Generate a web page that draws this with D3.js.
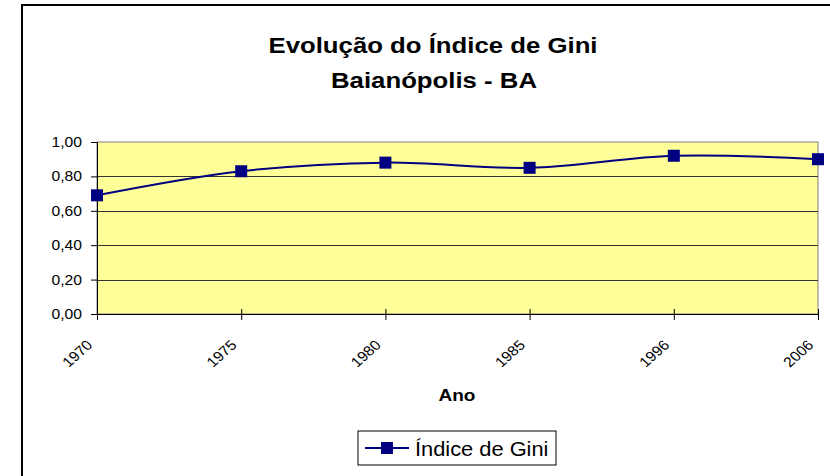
<!DOCTYPE html>
<html>
<head>
<meta charset="utf-8">
<script src="https://cdn.jsdelivr.net/npm/d3@7"></script>
<style>
	body { margin: 0; background: #fff; }
	svg { display: block; font-family: "Liberation Sans", Arial, sans-serif; }
</style>
</head>
<body>
<svg id="chart" width="830" height="476"></svg>
<script>
const anos = ["1970", "1975", "1980", "1985", "1996", "2006"];
const gini = [0.69, 0.83, 0.88, 0.85, 0.92, 0.90];
const yTicks = [0, 0.2, 0.4, 0.6, 0.8, 1.0];

const svg = d3.select("#chart");
const plotLeft = 97, plotRight = 818, plotTop = 142, plotBottom = 314;
// o texto do original e' um pouco mais largo que o normal
const sx = 1.12;

// moldura externa
svg.append("rect")
	.attr("x", 22).attr("y", 5)
	.attr("width", 900).attr("height", 600)
	.attr("fill", "none").attr("stroke", "#000").attr("stroke-width", 2);

const x = d3.scalePoint(anos, [plotLeft, plotRight]);
const y = d3.scaleLinear([0, 1], [plotBottom, plotTop]);

svg.append("rect")
	.attr("x", plotLeft).attr("y", plotTop)
	.attr("width", plotRight - plotLeft).attr("height", plotBottom - plotTop)
	.attr("fill", "#FFFF99")
	.attr("stroke", "#808080");

// linhas de grade
svg.append("g")
	.selectAll("line")
	.data(yTicks.slice(1, -1))
	.join("line")
	.attr("x1", plotLeft).attr("x2", plotRight)
	.attr("y1", (d) => Math.round(y(d)) + 0.5)
	.attr("y2", (d) => Math.round(y(d)) + 0.5)
	.attr("stroke", "#333");

const fmt = (d) => d.toFixed(2).replace(".", ",");

const yAxis = svg.append("g")
	.attr("transform", `translate(${plotLeft},0)`)
	.call(d3.axisLeft(y).tickValues(yTicks).tickFormat(fmt).tickSize(6));
yAxis.select(".domain").attr("stroke", "#000");
yAxis.selectAll("text")
	.style("font-size", "14px")
	.attr("fill", "#000")
	.attr("x", 0)
	.attr("transform", `translate(-15,0) scale(${sx},1)`);

const xAxis = svg.append("g")
	.attr("transform", `translate(0,${plotBottom})`)
	.call(d3.axisBottom(x).tickSize(6).tickSizeOuter(0));
xAxis.select(".domain").attr("stroke", "#000");
xAxis.selectAll(".tick line").attr("y1", -5);
xAxis.selectAll("text")
	.style("font-size", "14px")
	.attr("fill", "#000")
	.attr("text-anchor", "end")
	.attr("dy", null)
	.attr("y", 0)
	.attr("transform", `translate(-4,32) scale(${sx},1) rotate(-45)`);

// serie
const line = d3.line()
	.x((d, i) => x(anos[i]))
	.y((d) => y(d))
	.curve(d3.curveCatmullRom.alpha(0.5));

svg.append("path")
	.datum(gini)
	.attr("d", line)
	.attr("fill", "none")
	.attr("stroke", "#000080")
	.attr("stroke-width", 2);

svg.append("g")
	.selectAll("rect")
	.data(gini)
	.join("rect")
	.attr("x", (d, i) => x(anos[i]) - 6)
	.attr("y", (d) => y(d) - 6)
	.attr("width", 12).attr("height", 12)
	.attr("fill", "#000080");

function stretchedText(px, py, txt, size, bold, anchor) {
	return svg.append("text")
		.attr("transform", `translate(${px},${py}) scale(${sx},1)`)
		.attr("text-anchor", anchor)
		.style("font-size", size + "px")
		.style("font-weight", bold ? "bold" : "normal")
		.text(txt);
}

// titulos
stretchedText(433, 53, "Evolução do Índice de Gini", 23, true, "middle");
stretchedText(434, 88, "Baianópolis - BA", 23, true, "middle");
stretchedText(457, 401, "Ano", 17, true, "middle");

// legenda
const legend = svg.append("g").attr("transform", "translate(358,431)");
legend.append("rect")
	.attr("width", 198).attr("height", 34)
	.attr("fill", "#fff").attr("stroke", "#000");
legend.append("line")
	.attr("x1", 7).attr("x2", 51).attr("y1", 17).attr("y2", 17)
	.attr("stroke", "#000080").attr("stroke-width", 2);
legend.append("rect")
	.attr("x", 23).attr("y", 11).attr("width", 12).attr("height", 12)
	.attr("fill", "#000080");
legend.append("text")
	.attr("transform", `translate(57,25) scale(${sx},1)`)
	.style("font-size", "19.5px")
	.text("Índice de Gini");
</script>
</body>
</html>
